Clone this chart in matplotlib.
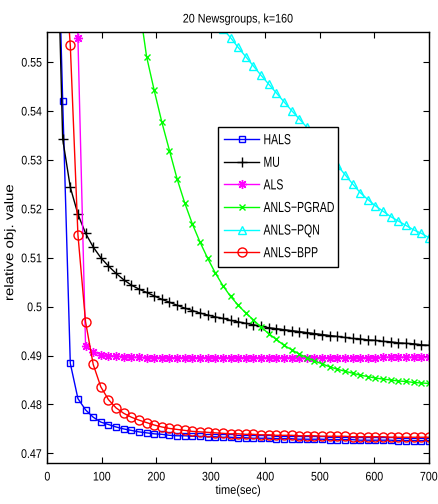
import numpy as np
import matplotlib
matplotlib.use('Agg')
import matplotlib.pyplot as plt
from matplotlib.patheffects import AbstractPathEffect
from matplotlib.transforms import Affine2D

plt.rcParams['font.family'] = ['Liberation Sans', 'DejaVu Sans']

# time axis (sec), one sample every 14 s
time_sec = [14, 28, 42, 56, 70, 84, 98, 112, 126, 140,
            154, 168, 182, 196, 210, 224, 238, 252, 266, 280,
            294, 308, 322, 336, 350, 364, 378, 392, 406, 420,
            434, 448, 462, 476, 490, 504, 518, 532, 546, 560,
            574, 588, 602, 616, 630, 644, 658, 672, 686, 700]

nan = np.nan

hals = [0.6000, 0.5421, 0.4884, 0.4812, 0.4789, 0.4774, 0.4764, 0.4759, 0.4754, 0.4750,
        0.4747, 0.4744, 0.4742, 0.4740, 0.4739, 0.4737, 0.4736, 0.4736, 0.4735, 0.4735,
        0.4734, 0.4734, 0.4733, 0.4733, 0.4732, 0.4732, 0.4731, 0.4731, 0.4731, 0.4730,
        0.4730, 0.4730, 0.4729, 0.4729, 0.4729, 0.4729, 0.4728, 0.4728, 0.4728, 0.4728,
        0.4727, 0.4727, 0.4727, 0.4727, 0.4727, 0.4726, 0.4726, 0.4726, 0.4726, 0.4726]

mu = [0.5950, 0.5343, 0.5244, 0.5189, 0.5150, 0.5122, 0.5100, 0.5083, 0.5068, 0.5055,
      0.5044, 0.5036, 0.5029, 0.5022, 0.5015, 0.5009, 0.5003, 0.4997, 0.4992, 0.4987,
      0.4983, 0.4979, 0.4976, 0.4972, 0.4969, 0.4966, 0.4963, 0.4960, 0.4957, 0.4955,
      0.4953, 0.4951, 0.4949, 0.4947, 0.4945, 0.4943, 0.4941, 0.4939, 0.4937, 0.4935,
      0.4934, 0.4932, 0.4931, 0.4929, 0.4928, 0.4926, 0.4925, 0.4924, 0.4922, 0.4921]

als = [nan, nan, 0.7000, 0.5549, 0.4920, 0.4908, 0.4902, 0.4900, 0.4899, 0.4898,
       0.4897, 0.4897, 0.4896, 0.4896, 0.4896, 0.4896, 0.4896, 0.4896, 0.4896, 0.4896,
       0.4896, 0.4896, 0.4896, 0.4896, 0.4896, 0.4896, 0.4896, 0.4896, 0.4896, 0.4896,
       0.4896, 0.4896, 0.4896, 0.4896, 0.4896, 0.4896, 0.4896, 0.4896, 0.4896, 0.4896,
       0.4896, 0.4896, 0.4896, 0.4897, 0.4897, 0.4897, 0.4897, 0.4897, 0.4897, 0.4897]

pgrad = [0.9000, 0.8000, 0.7400, 0.7000, 0.6700, 0.6450, 0.6250, 0.6070, 0.5920, 0.5800,
         0.5700, 0.5620, 0.5511, 0.5442, 0.5377, 0.5319, 0.5261, 0.5212, 0.5169, 0.5132,
         0.5099, 0.5069, 0.5043, 0.5021, 0.5003, 0.4987, 0.4973, 0.4958, 0.4945, 0.4933,
         0.4921, 0.4912, 0.4903, 0.4896, 0.4889, 0.4883, 0.4877, 0.4872, 0.4868, 0.4864,
         0.4860, 0.4857, 0.4854, 0.4852, 0.4850, 0.4848, 0.4847, 0.4845, 0.4844, 0.4843]

pqn = [nan, nan, nan, nan, nan, nan, nan, nan, nan, nan,
       nan, nan, nan, nan, nan, nan, nan, nan, nan, nan,
       nan, 0.5587, 0.5568, 0.5550, 0.5530, 0.5511, 0.5492, 0.5473, 0.5455, 0.5437,
       0.5419, 0.5401, 0.5384, 0.5367, 0.5345, 0.5325, 0.5306, 0.5289, 0.5270, 0.5251,
       0.5233, 0.5219, 0.5206, 0.5195, 0.5184, 0.5175, 0.5166, 0.5157, 0.5150, 0.5141]

bpp = [0.6500, 0.5760, 0.5534, 0.5147, 0.4969, 0.4882, 0.4836, 0.4810, 0.4793, 0.4782,
       0.4774, 0.4768, 0.4763, 0.4758, 0.4754, 0.4751, 0.4749, 0.4747, 0.4745, 0.4744,
       0.4743, 0.4742, 0.4741, 0.4740, 0.4740, 0.4739, 0.4739, 0.4738, 0.4738, 0.4737,
       0.4737, 0.4737, 0.4736, 0.4736, 0.4736, 0.4735, 0.4735, 0.4735, 0.4735, 0.4734,
       0.4734, 0.4734, 0.4734, 0.4734, 0.4733, 0.4733, 0.4733, 0.4733, 0.4733, 0.4733]

# matlab-style asterisk: 8 spokes
star = (8, 2, 0)

series = [
    ('HALS', hals, '#0000ff', 's', 5),
    ('MU', mu, 'k', '+', 7),
    ('ALS', als, '#ff00ff', star, 6.5),
    ('ANLS\u2212PGRAD', pgrad, '#00ff00', 'x', 5),
    ('ANLS\u2212PQN', pqn, '#00ffff', '^', 6),
    ('ANLS\u2212BPP', bpp, '#ff0000', 'o', 6.5),
]


class Narrow(AbstractPathEffect):
    # rescale text along its baseline, the original figure was squeezed sideways
    def __init__(self, sx=0.85, anchor='center'):
        super().__init__()
        self.sx = sx
        self.anchor = anchor

    def draw_path(self, renderer, gc, tpath, affine, rgbFace=None):
        xs = tpath.vertices[:, 0]
        if self.anchor == 'left':
            a = xs.min()
        elif self.anchor == 'right':
            a = xs.max()
        else:
            a = 0.5 * (xs.min() + xs.max())
        t = Affine2D().translate(-a, 0).scale(self.sx, 1).translate(a, 0) + affine
        renderer.draw_path(gc, tpath, t, rgbFace)


fig = plt.figure(figsize=(4.39, 5.04), dpi=100)
ax = fig.add_axes([0.108, 0.081, 0.869, 0.855])

for name, vals, col, mk, ms in series:
    ax.plot(time_sec, vals, color=col, marker=mk, markersize=ms, linewidth=1,
            markerfacecolor='none', markeredgecolor=col, markeredgewidth=1, label=name)

ax.set_xlim(0, 700)
ax.set_ylim(0.468, 0.5561)
ax.set_xticks([0, 100, 200, 300, 400, 500, 600, 700])
ax.set_yticks([0.47, 0.48, 0.49, 0.5, 0.51, 0.52, 0.53, 0.54, 0.55])
xl = ax.set_xticklabels(['0', '100', '200', '300', '400', '500', '600', '700'])
yl = ax.set_yticklabels(['0.47', '0.48', '0.49', '0.5', '0.51', '0.52', '0.53', '0.54', '0.55'])
ax.tick_params(direction='in', top=True, right=True, length=4, labelsize=9, width=0.8)
ax.tick_params(axis='x', pad=6)
ax.tick_params(axis='y', pad=4)
for s in ax.spines.values():
    s.set_linewidth(1)
for t in xl:
    t.set_path_effects([Narrow(0.85, 'center')])
for t in yl:
    t.set_path_effects([Narrow(0.85, 'right')])

title = ax.set_title('20 Newsgroups, k=160', fontsize=9, pad=7)
title.set_path_effects([Narrow(0.86, 'center')])
xlab = ax.set_xlabel('time(sec)', fontsize=9, labelpad=1)
xlab.set_path_effects([Narrow(0.88, 'center')])
ylab = ax.set_ylabel('relative obj. value', fontsize=9)
ylab.set_path_effects([Narrow(1.2, 'center')])
ax.yaxis.set_label_coords(-0.082, 0.512)

leg = ax.legend(loc='upper left', bbox_to_anchor=(0.446, 0.441, 0.316, 0.34), mode='expand',
                fontsize=10.5, fancybox=False, framealpha=1, edgecolor='k', handlelength=2.4,
                borderpad=0.45, labelspacing=0.59, handletextpad=0.3, borderaxespad=0)
leg.get_frame().set_linewidth(1)
for t in leg.get_texts():
    t.set_path_effects([Narrow(0.72, 'left')])

fig.savefig('out.png', dpi=100)
